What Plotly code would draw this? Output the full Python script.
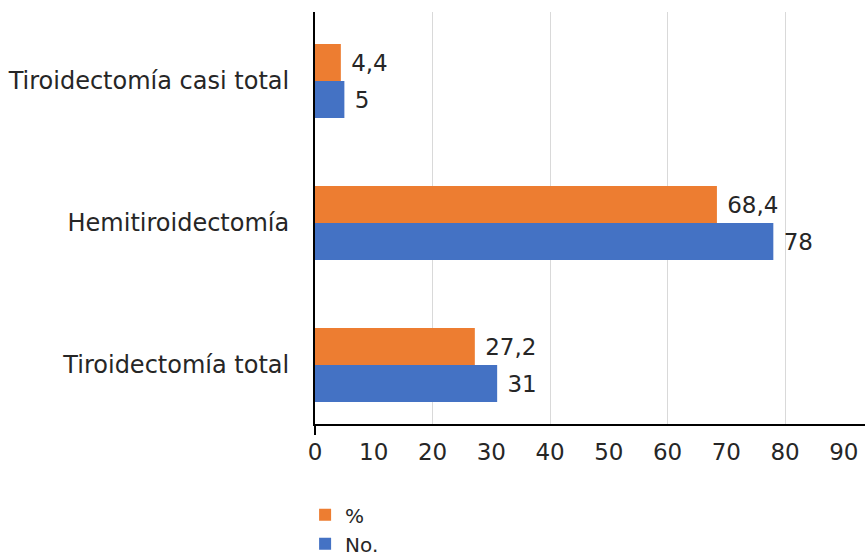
import plotly.graph_objects as go

# Surgical procedures (bottom to top on the category axis)
procedimientos = ["Tiroidectomía total", "Hemitiroidectomía", "Tiroidectomía casi total"]
numero = [31, 78, 5]
porcentaje = [27.2, 68.4, 4.4]

serie_num = "No."
serie_pct = "%"
color_num = "#4472C4"
color_pct = "#ED7D31"

x_ticks = list(range(0, 100, 10))
grid_vals = [20, 40, 60, 80]

FONT = "DejaVu Sans"
TXT = "#262626"
X_MAX = 93.6


def etiqueta(v):
    return " " + f"{v:g}".replace(".", ",")


fig = go.Figure()

fig.add_trace(go.Bar(
    y=procedimientos, x=numero, orientation="h", name=serie_num,
    marker=dict(color=color_num, line=dict(width=0)),
    text=[etiqueta(v) for v in numero], textposition="outside",
    textfont=dict(family=FONT, size=23, color=TXT),
    cliponaxis=False, showlegend=False,
))
fig.add_trace(go.Bar(
    y=procedimientos, x=porcentaje, orientation="h", name=serie_pct,
    marker=dict(color=color_pct, line=dict(width=0)),
    text=[etiqueta(v) for v in porcentaje], textposition="outside",
    textfont=dict(family=FONT, size=23, color=TXT),
    cliponaxis=False, showlegend=False,
))

# Legend entries (percentage listed first)
for nombre, color in [(serie_pct, color_pct), (serie_num, color_num)]:
    fig.add_trace(go.Scatter(
        x=[None], y=[None], mode="markers", name=nombre,
        marker=dict(symbol="square", size=18, color=color, line=dict(width=0)),
        showlegend=True,
    ))

fig.update_layout(
    width=865, height=559,
    margin=dict(l=315, r=0, t=12, b=135, autoexpand=False),
    paper_bgcolor="white", plot_bgcolor="white",
    barmode="group", bargap=0.479, bargroupgap=0,
    font=dict(family=FONT, size=23, color=TXT),
    xaxis=dict(
        range=[0, X_MAX], tickvals=x_ticks, showgrid=False, zeroline=False,
        showline=True, linecolor="#000000", linewidth=2, ticks="",
        ticklabelstandoff=6, tickfont=dict(size=23, color=TXT),
    ),
    xaxis2=dict(
        overlaying="x", anchor="y", range=[0, X_MAX], tickvals=grid_vals,
        showgrid=True, gridcolor="#d9d9d9", gridwidth=1, showticklabels=False,
        ticks="", showline=False, zeroline=False,
    ),
    xaxis3=dict(
        overlaying="x", anchor="y", range=[0, X_MAX], tickvals=[0],
        showgrid=False, showticklabels=False, ticks="outside", ticklen=10,
        tickwidth=2, tickcolor="#000000", showline=False, zeroline=False,
    ),
    yaxis=dict(
        categoryorder="array", categoryarray=procedimientos,
        range=[-0.415, 2.486], showgrid=False, zeroline=False,
        showline=True, linecolor="#000000", linewidth=2, ticks="",
        ticklabelstandoff=19, tickfont=dict(size=24, color=TXT),
    ),
    legend=dict(
        x=-0.018, xanchor="left", y=-0.338, yanchor="bottom",
        font=dict(family=FONT, size=20, color=TXT),
        tracegroupgap=0, itemsizing="constant", bgcolor="rgba(0,0,0,0)",
    ),
)

# Invisible traces to activate the overlay axes for grid and zero tick
fig.add_trace(go.Scatter(x=[None], y=[None], xaxis="x2", yaxis="y", showlegend=False, hoverinfo="skip"))
fig.add_trace(go.Scatter(x=[None], y=[None], xaxis="x3", yaxis="y", showlegend=False, hoverinfo="skip"))

fig.write_html("out.html")
